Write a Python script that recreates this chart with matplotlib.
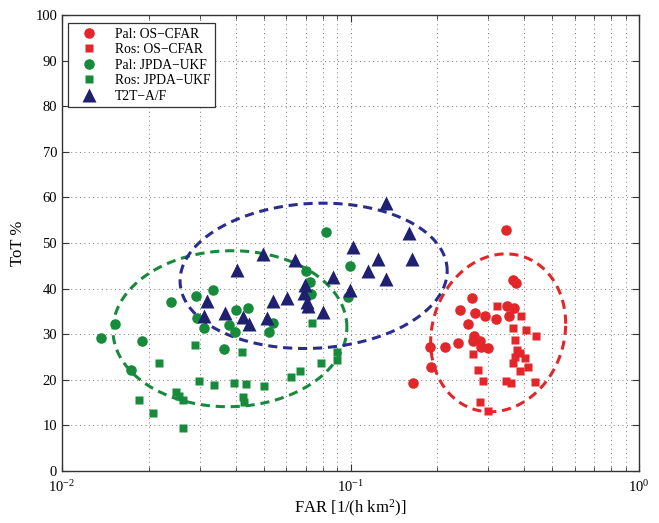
import numpy as np
import matplotlib
matplotlib.use("Agg")
import matplotlib.pyplot as plt
from matplotlib.ticker import LogLocator, MultipleLocator

plt.rcParams['font.family'] = ['Liberation Serif', 'DejaVu Serif']
plt.rcParams['mathtext.fontset'] = 'custom'
plt.rcParams['mathtext.rm'] = 'Liberation Serif'
plt.rcParams['mathtext.it'] = 'Liberation Serif:italic'

# Pal: OS-CFAR
pal_os_far = [0.346, 0.367, 0.374, 0.263, 0.240, 0.270, 0.292, 0.319, 0.348, 0.369, 0.354,
              0.255, 0.268, 0.265, 0.235, 0.213, 0.189, 0.281, 0.283, 0.300, 0.190, 0.165]
pal_os_tot = [52.9, 41.9, 41.3, 37.9, 35.3, 34.6, 34.0, 33.3, 36.2, 35.7, 34.0,
              32.2, 29.5, 28.4, 28.0, 27.3, 27.1, 28.4, 27.3, 26.9, 22.7, 19.4]

# Ros: OS-CFAR
ros_os_far = [0.321, 0.390, 0.367, 0.405, 0.439, 0.372, 0.265, 0.377, 0.387, 0.372, 0.403,
              0.367, 0.413, 0.387, 0.277, 0.288, 0.346, 0.360, 0.436, 0.280, 0.300]
ros_os_tot = [36.2, 34.0, 31.3, 30.9, 29.5, 28.7, 25.7, 26.5, 25.8, 25.1, 24.7,
              23.6, 22.9, 22.0, 22.1, 19.8, 19.8, 19.4, 19.6, 15.1, 13.2]

# Pal: JPDA-UKF
pal_jp_far = [0.0822, 0.0996, 0.0702, 0.0724, 0.0728, 0.0983, 0.0334, 0.0291, 0.0238, 0.0400, 0.0440,
              0.0293, 0.0311, 0.0380, 0.0398, 0.0540, 0.0522, 0.0153, 0.0137, 0.0190, 0.0365, 0.0173]
pal_jp_tot = [52.5, 44.9, 43.9, 41.5, 38.8, 38.2, 39.7, 38.4, 37.1, 35.3, 35.7,
              33.5, 31.3, 32.0, 30.5, 32.5, 30.5, 32.2, 29.1, 28.5, 26.7, 22.1]

# Ros: JPDA-UKF
ros_jp_far = [0.0734, 0.0289, 0.0422, 0.0217, 0.0896, 0.0896, 0.0788, 0.0668, 0.0621, 0.0299, 0.0337,
              0.0396, 0.0433, 0.0503, 0.0185, 0.0248, 0.0255, 0.0262, 0.0423, 0.0429, 0.0206, 0.0262]
ros_jp_tot = [32.4, 27.6, 26.2, 23.6, 26.2, 24.3, 23.6, 22.0, 20.7, 19.7, 18.9,
              19.4, 19.0, 18.6, 15.6, 17.4, 16.4, 15.6, 16.3, 15.2, 12.7, 9.5]

# T2T-A/F
t2t_far = [0.0497, 0.0642, 0.0405, 0.0872, 0.1023, 0.0996, 0.0696, 0.0691, 0.0601, 0.0540, 0.0705,
           0.0714, 0.0805, 0.0318, 0.0367, 0.0423, 0.0445, 0.0512, 0.0311, 0.1324, 0.160, 0.1638,
           0.1249, 0.1153, 0.1324]
t2t_tot = [47.6, 46.3, 44.1, 42.5, 49.2, 39.8, 40.8, 39.0, 37.9, 37.3, 37.1,
           36.2, 34.8, 37.3, 34.6, 33.7, 32.2, 33.5, 34.0, 58.8, 52.1, 46.6,
           46.4, 43.9, 42.0]

# summary ellipses (OS-CFAR, JPDA-UKF, T2T-A/F):
# centre FAR, centre ToT, half width [decades], half height [ToT], shear [ToT]
ell_far = [0.325, 0.0382, 0.0745]
ell_tot = [30.3, 31.2, 42.8]
ell_wdec = [0.234, 0.4055, 0.463]
ell_h = [17.2, 17.1, 15.9]
ell_shear = [2.0, 0.3, 1.1]

red = '#e2262a'
green = '#178a3c'
navy = '#1f2170'
blue = '#2b2d8e'

fig = plt.figure(figsize=(6.59, 5.23), dpi=100)
ax = fig.add_axes([62 / 659, 1 - 471 / 523, 577 / 659, 456 / 523])

ax.set_xscale('log')
ax.set_xlim(1e-2, 1)
ax.set_ylim(0, 100)

ax.grid(True, which='major', axis='both', linestyle=(0, (1, 3.5)), color='#777777', linewidth=0.7)
ax.grid(True, which='minor', axis='x', linestyle=(0, (1, 3.5)), color='#777777', linewidth=0.7)

# ellipses
t = np.linspace(0, 2 * np.pi, 400)
for far_c, tot_c, wd, hh, sh, col in zip(ell_far, ell_tot, ell_wdec, ell_h, ell_shear, [red, green, blue]):
    u = np.log10(far_c) + wd * np.cos(t)
    v = tot_c + hh * np.sin(t) + sh * np.cos(t)
    ax.plot(10 ** u, v, color=col, lw=2.2, linestyle=(0, (3.0, 1.9)), zorder=2)

ms_c = 7.6
ms_s = 6.4
ms_t = 9.5
ax.plot(pal_os_far, pal_os_tot, 'o', color=red, ms=ms_c, mec='none', label='Pal: OS\u2212CFAR', zorder=3)
ax.plot(ros_os_far, ros_os_tot, 's', color=red, ms=ms_s, mec='none', label='Ros: OS\u2212CFAR', zorder=3)
ax.plot(pal_jp_far, pal_jp_tot, 'o', color=green, ms=ms_c, mec='none', label='Pal: JPDA\u2212UKF', zorder=3)
ax.plot(ros_jp_far, ros_jp_tot, 's', color=green, ms=ms_s, mec='none', label='Ros: JPDA\u2212UKF', zorder=3)
ax.plot(t2t_far, t2t_tot, '^', color=navy, ms=ms_t, mec='none', label='T2T\u2212A/F', zorder=4)

ax.yaxis.set_major_locator(MultipleLocator(10))
ax.xaxis.set_major_locator(LogLocator(base=10, numticks=10))
ax.xaxis.set_minor_locator(LogLocator(base=10, subs=np.arange(2, 10), numticks=10))
ax.tick_params(which='both', direction='in', top=True, right=True, labelsize=10.5, color='#333333')
ax.tick_params(which='major', length=5)
ax.tick_params(which='minor', length=3)
ax.tick_params(axis='x', pad=6)
for s in ax.spines.values():
    s.set_linewidth(1.0)
    s.set_color('#333333')

ax.set_xlabel('FAR [1/(h km$^2$)]', fontsize=12, labelpad=2)
ax.set_ylabel('ToT %', fontsize=12, labelpad=7)

leg = ax.legend(loc='upper left', bbox_to_anchor=(6 / 577, 1 - 8 / 456), borderaxespad=0,
                fontsize=9.8, frameon=True, fancybox=False, edgecolor='#333333',
                framealpha=1, labelspacing=0.18, handletextpad=0.7,
                handlelength=2.4, borderpad=0.35)
leg.get_frame().set_linewidth(0.9)

fig.savefig('out.png', dpi=100)
